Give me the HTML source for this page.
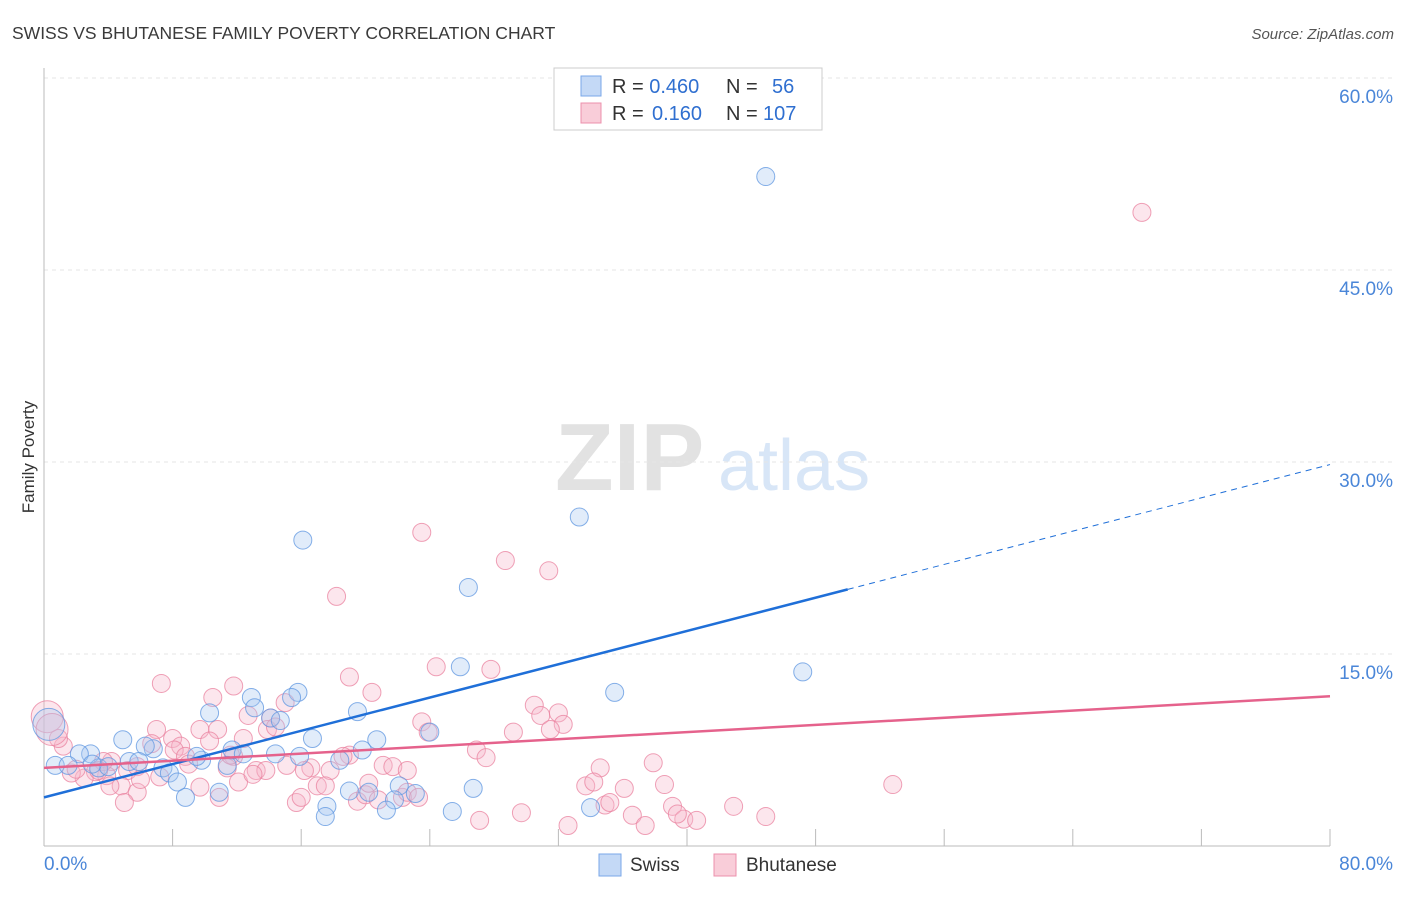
<!DOCTYPE html>
<html><head><meta charset="utf-8"><style>
body{margin:0;background:#fff;font-family:"Liberation Sans",sans-serif}
svg text{font-family:"Liberation Sans",sans-serif}
</style></head><body>
<svg id="chart" width="1406" height="892" xmlns="http://www.w3.org/2000/svg">
<text x="12" y="39" font-size="17.5" fill="#3a3a3a">SWISS VS BHUTANESE FAMILY POVERTY CORRELATION CHART</text>
<text x="1394" y="39" font-size="15" fill="#555" font-style="italic" text-anchor="end">Source: ZipAtlas.com</text>
<text transform="translate(34,457) rotate(-90)" font-size="17" fill="#333" text-anchor="middle">Family Poverty</text>
<g>
<text x="555" y="490" font-size="96" fill="#e2e2e2" font-family="Liberation Serif" font-weight="bold">ZIP</text>
<text x="718" y="490" font-size="72" fill="#d8e6f7">atlas</text>
</g>
<g id="grid"></g><g id="axes"></g><g id="pts"></g><g id="lines"></g>
<g>
<rect x="554" y="68" width="268" height="62" fill="#fff" stroke="#ccc"/>
<rect x="581" y="76" width="20" height="20" fill="#c4d9f6" stroke="#7aa7e8"/>
<rect x="581" y="103" width="20" height="20" fill="#f9cdd9" stroke="#ec90ac"/>
<text x="612" y="93" font-size="20" fill="#333">R = <tspan fill="#2f6fd0">0.460</tspan><tspan x="726">N =</tspan><tspan x="772" fill="#2f6fd0">56</tspan></text>
<text x="612" y="120" font-size="20" fill="#333">R = <tspan x="652" fill="#2f6fd0">0.160</tspan><tspan x="726">N =</tspan><tspan x="763" fill="#2f6fd0">107</tspan></text>
</g>
<g>
<rect x="599" y="854" width="22" height="22" fill="#c4d9f6" stroke="#7aa7e8"/>
<text x="630" y="871" font-size="19" fill="#333">Swiss</text>
<rect x="714" y="854" width="22" height="22" fill="#f9cdd9" stroke="#ec90ac"/>
<text x="746" y="871" font-size="19" fill="#333">Bhutanese</text>
</g>
</svg>
<script>
const swissX=[44.9,16.1,33.3,26.4,25.9,47.2,35.5,15.8,15.4,12.9,10.3,19.5,13.1,14.1,14.7,4.9,6.8,6.3,11.7,12.4,14.4,16.7,20.7,19.8,18.4,9.8,9.5,2.9,2.2,0.7,1.5,3.4,5.3,5.9,7.4,7.8,8.3,10.9,8.8,19.0,20.2,22.1,23.1,26.7,21.8,21.3,17.6,17.5,25.4,34.0,0.3,11.4,4.0,24.0,15.9,3.0];
const swissY=[52.3,23.9,25.7,20.2,14.0,13.6,12.0,12.0,11.6,11.6,10.4,10.5,10.8,10.0,9.8,8.3,7.6,7.8,7.5,7.2,7.2,8.4,8.3,7.5,6.7,6.7,7.0,7.2,7.2,6.3,6.3,6.1,6.6,6.6,6.1,5.7,5.0,4.2,3.8,4.3,4.2,4.7,4.1,4.5,3.6,2.8,3.1,2.3,2.7,3.0,9.5,6.3,6.2,8.9,7.0,6.4];
const bhuX=[68.3,23.5,28.7,31.4,18.2,24.4,27.8,19.0,7.3,11.8,20.4,10.5,15.0,30.5,12.7,14.1,30.9,32.0,32.3,29.2,23.5,23.9,31.5,7.0,9.7,10.8,8.0,8.5,10.3,6.7,12.4,13.9,14.4,1.2,0.9,19.0,18.6,26.9,27.5,21.1,21.7,22.6,17.8,16.6,16.2,13.2,13.8,11.8,11.4,4.2,5.2,5.8,7.2,8.1,8.8,3.9,3.2,2.5,1.7,3.7,3.4,4.8,5.8,5.0,4.1,9.7,12.1,10.9,15.7,16.0,17.0,17.5,19.5,20.0,20.8,22.3,22.6,34.6,37.9,33.7,34.2,36.1,38.6,34.9,35.2,39.1,36.6,37.4,39.8,40.6,42.9,44.9,52.8,32.6,27.1,29.7,20.2,0.2,0.5,23.3,11.6,15.1,2.0,6.0,9.0,13.0,39.4];
const bhuY=[49.5,24.5,22.3,21.5,19.5,14.0,13.8,13.2,12.7,12.5,12.0,11.6,11.2,11.0,10.2,10.0,10.2,10.4,9.5,8.9,9.7,8.9,9.1,9.1,9.1,9.1,8.4,7.8,8.2,8.0,8.4,9.1,9.3,7.8,8.4,7.1,7.0,7.5,6.9,6.3,6.2,5.9,5.9,6.1,5.9,5.9,5.9,7.0,6.1,6.6,5.9,6.2,5.4,7.5,7.0,5.5,5.8,5.3,5.7,6.6,5.9,4.7,4.2,3.4,4.7,4.6,5.0,3.8,3.4,3.8,4.7,4.7,3.5,4.0,3.6,3.8,4.2,6.1,6.5,4.7,5.0,4.5,4.8,3.2,3.4,3.1,2.4,1.6,2.1,2.0,3.1,2.3,4.8,1.6,2.0,2.6,4.9,10.1,9.1,3.8,7.1,6.3,6.0,5.2,6.4,5.6,2.5];
const yTicks=[15,30,45,60];
const xTickVals=[0,8,16,24,32,40,48,56,64,72,80];
const swissTrend=[3.8,29.8]; const bhuTrend=[6.1,11.7];
const NS="http://www.w3.org/2000/svg";
const X=v=>44+v*16.075, Y=v=>846-v*12.8;
function mk(p,t,a){const e=document.createElementNS(NS,t);for(const k in a)e.setAttribute(k,a[k]);p.appendChild(e);return e;}
const grid=document.getElementById('grid'),axes=document.getElementById('axes'),pts=document.getElementById('pts'),lines=document.getElementById('lines');
yTicks.forEach(v=>{
 const l=mk(grid,'line',{x1:44,x2:1394,y1:Y(v),y2:Y(v),stroke:'#e6e6e6','stroke-dasharray':'4,4'});
 
 
 const t=mk(grid,'text',{x:1393,y:Y(v)+25,'font-size':19,fill:'#4a86d8','text-anchor':'end'});t.textContent=v.toFixed(1)+'%';
 
 
});
const ya=mk(axes,'line',{x1:44,x2:44,y1:68,y2:846,stroke:'#bbb'});


const xa=mk(axes,'line',{x1:44,x2:1330,y1:846,y2:846,stroke:'#bbb'});


xTickVals.forEach(v=>{const t=mk(axes,'line',{x1:X(v),x2:X(v),y1:829,y2:846,stroke:'#bbb'});
 
 });
[[0,'start',44],[80,'end',1393]].forEach(([v,a,x])=>{const t=mk(axes,'text',{x:x,y:870,'font-size':19,fill:'#4a86d8','text-anchor':a});t.textContent=v.toFixed(1)+'%';
 
 });
function dots(xs,ys,fill,stroke,name){xs.forEach((x,i)=>{const big=x<0.6&&ys[i]>9;const c=mk(pts,'circle',{cx:X(x),cy:Y(ys[i]),r:big?16:9,fill:fill,'fill-opacity':0.35,stroke:stroke,'stroke-opacity':0.75,'stroke-width':1});
 
 });}
dots(bhuX,bhuY,'#f7b8ca','#ea819f','bhutanese-point');
dots(swissX,swissY,'#a9c8f2','#5d95e0','swiss-point');
const sl=mk(lines,'line',{x1:X(0),y1:Y(swissTrend[0]),x2:X(50),y2:Y(swissTrend[0]+(swissTrend[1]-swissTrend[0])*50/80),stroke:'#1f6fd8','stroke-width':2.5});


const sd=mk(lines,'line',{x1:X(50),y1:Y(swissTrend[0]+(swissTrend[1]-swissTrend[0])*50/80),x2:X(80),y2:Y(swissTrend[1]),stroke:'#1f6fd8','stroke-width':1,'stroke-dasharray':'6,5'});


const bl=mk(lines,'line',{x1:X(0),y1:Y(bhuTrend[0]),x2:X(80),y2:Y(bhuTrend[1]),stroke:'#e5628c','stroke-width':2.5});


</script>
</body></html>
